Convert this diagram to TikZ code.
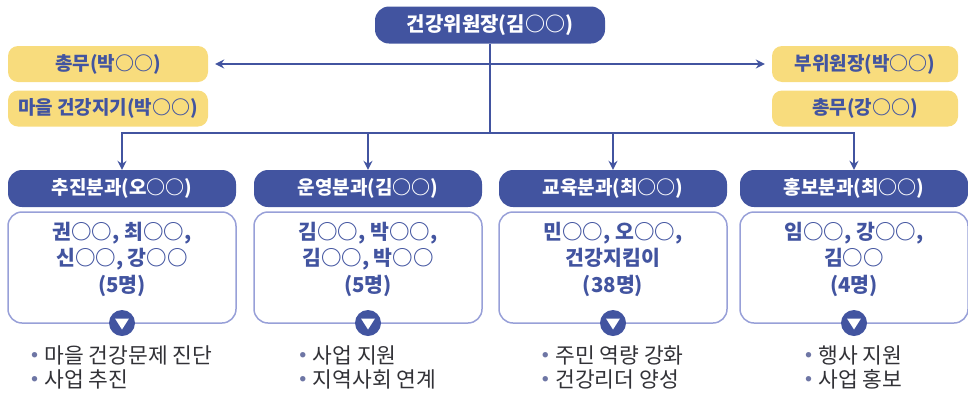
\documentclass[tikz,border=0pt]{standalone}
\usepackage{fontspec}
\setmainfont{Noto Sans CJK KR}
\usetikzlibrary{arrows.meta}
\definecolor{navy}{RGB}{66,84,160}
\definecolor{yel}{RGB}{248,220,125}
\definecolor{lav}{RGB}{152,160,216}
\definecolor{txtg}{RGB}{50,50,55}
\definecolor{dotc}{RGB}{110,118,165}
\newcommand{\hfont}{\fontsize{19}{22}\selectfont\bfseries}
\newcommand{\tfont}{\fontsize{20}{22}\selectfont\bfseries}
\newcommand{\mfont}{\fontsize{20.5}{26.5}\selectfont\bfseries}
\newcommand{\bfnt}{\fontsize{21.5}{24.5}\selectfont}
\newcommand{\bdot}{\raisebox{6pt}{\color{dotc}\fontsize{6}{6}\selectfont ●}\hspace{7pt}}
\begin{document}
\begin{tikzpicture}[x=1pt,y=-1pt,
  headbox/.style={fill=navy, rounded corners=14pt, minimum width=228pt, minimum height=37pt, text=white, font=\hfont, inner sep=0pt},
  yelbox/.style={fill=yel, rounded corners=10pt, minimum height=36pt, text=navy, font=\hfont, inner sep=0pt},
  bodybox/.style={draw=lav, line width=1.5pt, fill=white, rounded corners=14pt, minimum width=228pt, minimum height=111pt, inner sep=0pt},
  memtext/.style={text=navy, font=\mfont, align=center, inner sep=0pt},
  bultext/.style={text=txtg, font=\bfnt, align=left, inner sep=0pt},
  knob/.style={circle, fill=navy, minimum size=26pt, inner sep=0pt},
  conn/.style={draw=navy, line width=1.6pt},
  tip/.style={-{Stealth[length=9pt,width=9pt,inset=3pt]}}
]
\useasboundingbox (0,0) rectangle (968,397);

% top
\node[headbox, minimum width=230pt, font=\tfont] (top) at (490,25) {건강위원장(김○○)};

% yellow boxes
\node[yelbox, minimum width=200pt] (a1) at (108,64) {총무(박○○)};
\node[yelbox, minimum width=200pt] (a2) at (108,108.5) {마을 건강지기(박○○)};
\node[yelbox, minimum width=186pt] (b1) at (865,64) {부위원장(박○○)};
\node[yelbox, minimum width=186pt] (b2) at (865,108.5) {총무(강○○)};

% departments
\foreach \i/\cx/\hd/\mem/\bul in {
  1/122/{추진분과(오○○)}/{권○○, 최○○,\\신○○, 강○○\\(5명)}/{\bdot 마을 건강문제 진단\\\bdot 사업 추진},
  2/368/{운영분과(김○○)}/{김○○, 박○○,\\김○○, 박○○\\(5명)}/{\bdot 사업 지원\\\bdot 지역사회 연계},
  3/613/{교육분과(최○○)}/{민○○, 오○○,\\건강지킴이\\(38명)}/{\bdot 주민 역량 강화\\\bdot 건강리더 양성},
  4/854/{홍보분과(최○○)}/{임○○, 강○○,\\김○○\\(4명)}/{\bdot 행사 지원\\\bdot 사업 홍보}} {
  \node[headbox] (d\i) at (\cx,188.5) {\hd};
  \node[bodybox] (m\i) at (\cx,267.5) {};
  \node[memtext] (t\i) at (\cx,259) {\mem};
  \node[knob] (k\i) at (\cx,323) {};
  \fill[white] ([shift={(-7pt,4.5pt)}]k\i.center) -- ([shift={(7pt,4.5pt)}]k\i.center) -- ([shift={(0pt,-6.5pt)}]k\i.center) -- cycle;
  \node[bultext] (u\i) at (\cx,367.5) {\bul};
}

% connectors
\coordinate (bus) at (490,133);
\draw[conn] (top.south) -- (bus);
\draw[conn, {Stealth[length=9pt,width=9pt,inset=3pt]}-{Stealth[length=9pt,width=9pt,inset=3pt]}, shorten <=7pt, shorten >=7pt] (a1.east) -- (b1.west);
\foreach \i in {1,...,4} {
  \draw[conn, tip] (bus) -| (d\i.north);
}
\end{tikzpicture}
\end{document}
